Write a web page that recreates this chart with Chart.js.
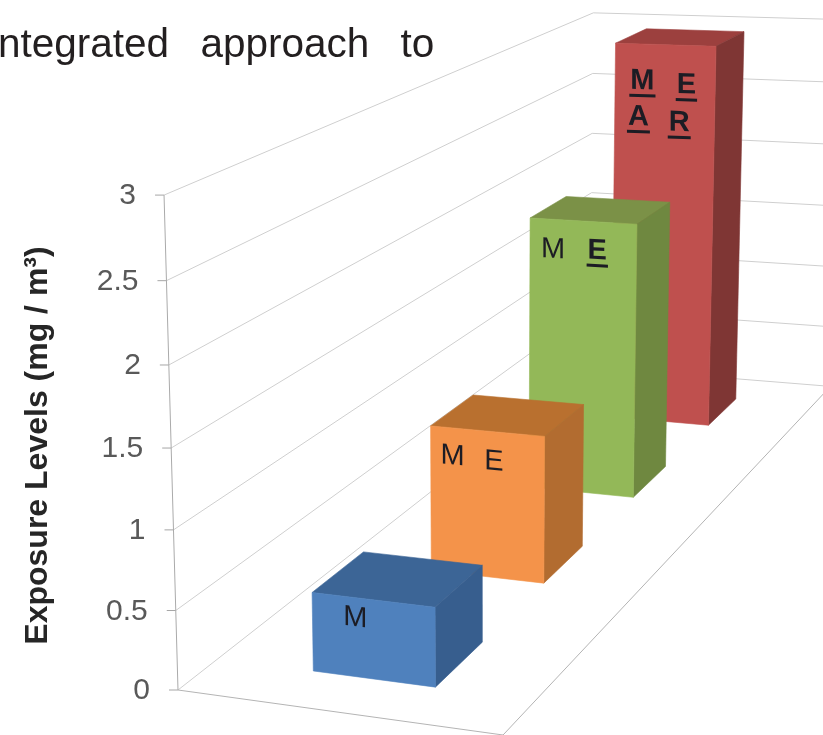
<!DOCTYPE html>
<html>
<head>
<meta charset="utf-8">
<style>
  html, body { margin: 0; padding: 0; background: #fff; overflow: hidden; }
  #wrap { position: relative; width: 823px; height: 735px; overflow: hidden; }
  #lead { position: absolute; left: -2px; top: 18px; font: 40.5px "Liberation Sans", Arial, sans-serif; color: #231f20;
          white-space: pre; word-spacing: 20px; line-height: 50px; }
  canvas { position: absolute; left: 0; top: 0; }
</style>
<script src="https://cdn.jsdelivr.net/npm/chart.js@4"></script>
</head>
<body>
<div id="wrap">
  <canvas id="chart" width="823" height="735"></canvas>
  <div id="lead">ntegrated approach to</div>
</div>
<script>
// Exposure level reached by each scenario, front row to back row.
const categories = ['M', 'M E', 'M E*', 'M* E* A* R*'];
const exposureLevels = [0.5, 1, 2, 2.97];
const yTickLabels = ['0', '0.5', '1', '1.5', '2', '2.5', '3'];
const yAxisTitle = 'Exposure Levels (mg / m\u00B3)';

// Letters printed on the front face of each column; true marks bold and underlined.
const columnTags = [['M'], ['M', 'E'], ['M', 'E'], ['M', 'E', 'A', 'R']];
const tagEmphasis = [[false], [false, false], [false, true], [true, true, true, true]];

// Face colours per column: front, top, side.
const frontColors = ['#4f81bd', '#f4934a', '#93b858', '#bf504e'];
const topColors = ['#3c6596', '#b9702f', '#7b9147', '#9c403e'];
const sideColors = ['#375e8e', '#b26c30', '#6f8840', '#7f3634'];

// Where tags sit on a face: fraction across the face, value units below the top.
const tagSlots = [
  [[0.355, 0.13]],
  [[0.195, 0.195], [0.56, 0.205]],
  [[0.22, 0.22], [0.635, 0.21]],
  [[0.275, 0.285], [0.715, 0.305], [0.24, 0.565], [0.65, 0.595]]
];

// Perspective camera: (across, value, depth) in homogeneous form.
const CAM = {
  x: [299.9, -7.03, 659.8, 178],
  y: [8.25, -167.8, -168.9, 690],
  w: [-0.05, -0.0145, 0.42, 1]
};
function project(across, value, depth) {
  const w = CAM.w[0] * across + CAM.w[1] * value + CAM.w[2] * depth + CAM.w[3];
  return {
    x: (CAM.x[0] * across + CAM.x[1] * value + CAM.x[2] * depth + CAM.x[3]) / w,
    y: (CAM.y[0] * across + CAM.y[1] * value + CAM.y[2] * depth + CAM.y[3]) / w
  };
}

// Value axis that runs along the front-left edge of the 3D box.
class PerspectiveScale extends Chart.LinearScale {
  static id = 'perspective';
  getPixelForValue(value) {
    return project(0, value, 0).y;
  }
  _computeLabelArea() {
    return undefined;
  }
  _computeLabelItems(area) {
    const items = super._computeLabelItems(area);
    items.forEach((item, i) => {
      const p = project(0, this.ticks[i].value, 0);
      item.textOffset = 0;
      item.options.translation = [p.x - 28, p.y + 1];
      item.options.textAlign = 'right';
      item.options.textBaseline = 'middle';
    });
    return items;
  }
}

const ACROSS_START = 0.31;
const ACROSS_END = 0.695;
const FRONT_OFFSET = 0.054;
const BACK_OFFSET = 0.048;

function polygon(ctx, points, fill) {
  ctx.beginPath();
  points.forEach((p, i) => (i ? ctx.lineTo(p.x, p.y) : ctx.moveTo(p.x, p.y)));
  ctx.closePath();
  ctx.fillStyle = fill;
  ctx.strokeStyle = fill;
  ctx.lineWidth = 0.6;
  ctx.fill();
  ctx.stroke();
}

// Column controller: extrudes each bar into a box, painting back rows first.
class Column3DController extends Chart.BarController {
  static id = 'column3d';
  draw() {
    const ctx = this.chart.ctx;
    const meta = this._cachedMeta;
    const xScale = meta.iScale;
    for (let i = meta.data.length - 1; i >= 0; i--) {
      const value = meta._parsed[i].y;
      const depth = xScale.getDecimalForPixel(xScale.getPixelForValue(i));
      const z0 = depth - FRONT_OFFSET, z1 = depth + BACK_OFFSET;
      const a0 = ACROSS_START, a1 = ACROSS_END;
      polygon(ctx, [project(a0, value, z0), project(a1, value, z0), project(a1, value, z1), project(a0, value, z1)], topColors[i]);
      polygon(ctx, [project(a1, 0, z0), project(a1, value, z0), project(a1, value, z1), project(a1, 0, z1)], sideColors[i]);
      polygon(ctx, [project(a0, 0, z0), project(a1, 0, z0), project(a1, value, z0), project(a0, value, z0)], frontColors[i]);
      this.drawTags(ctx, i, value, z0);
    }
  }
  drawTags(ctx, i, value, z0) {
    const a0 = ACROSS_START, a1 = ACROSS_END;
    const left = project(a0, value, z0), right = project(a1, value, z0);
    const slope = (right.y - left.y) / (right.x - left.x);
    columnTags[i].forEach((tag, t) => {
      const [u, below] = tagSlots[i][t];
      const p = project(a0 + (a1 - a0) * u, value - below, z0);
      const strong = tagEmphasis[i][t];
      ctx.save();
      ctx.translate(p.x, p.y);
      ctx.transform(1, slope, 0, 1, 0, 0);
      ctx.font = (strong ? 'bold ' : '') + '29px "Liberation Sans", Arial, sans-serif';
      ctx.fillStyle = '#1c1c24';
      ctx.textAlign = 'center';
      ctx.textBaseline = 'middle';
      ctx.fillText(tag, 0, 0);
      if (strong) {
        const w = ctx.measureText(tag).width;
        ctx.fillRect(-w / 2 - 1, 13, w + 2, 3);
      }
      ctx.restore();
    });
  }
}

// Walls, floor and the slanted axis of the box.
const boxFrame = {
  id: 'boxFrame',
  beforeDatasetsDraw(chart) {
    const ctx = chart.ctx;
    const scale = chart.scales.y;
    const segment = (a, b, color) => {
      ctx.beginPath();
      ctx.moveTo(a.x, a.y);
      ctx.lineTo(b.x, b.y);
      ctx.strokeStyle = color;
      ctx.stroke();
    };
    ctx.save();
    ctx.lineWidth = 1;
    scale.ticks.forEach((tick) => {
      const v = tick.value;
      const front = project(0, v, 0);
      const corner = project(0, v, 1);
      segment(front, corner, '#cfcfcf');
      segment(corner, project(1, v, 1), '#cfcfcf');
      segment({ x: front.x - 9, y: front.y }, front, '#a6a6a6');
    });
    segment(project(0, 0, 0), project(0, scale.max, 0), '#aaaaaa');
    segment(project(0, 0, 0), project(1, 0, 0), '#b4b4b4');
    segment(project(1, 0, 0), project(1, 0, 1), '#b4b4b4');
    ctx.restore();
  }
};

Chart.register(PerspectiveScale, Column3DController);

new Chart(document.getElementById('chart'), {
  type: 'column3d',
  data: {
    labels: categories,
    datasets: [{ data: exposureLevels, backgroundColor: frontColors, clip: false }]
  },
  options: {
    responsive: false,
    animation: false,
    events: [],
    layout: { padding: { left: 19, top: 177, right: 0, bottom: 0 } },
    plugins: { legend: { display: false }, tooltip: { enabled: false }, title: { display: false } },
    scales: {
      x: { type: 'category', display: false, offset: true },
      y: {
        type: 'perspective',
        min: 0,
        max: 3,
        grid: { display: false },
        border: { display: false },
        ticks: {
          stepSize: 0.5,
          autoSkip: false,
          color: '#595959',
          font: { family: '"Liberation Sans", Arial, sans-serif', size: 30 },
          callback: (value, index) => yTickLabels[index]
        },
        title: {
          display: true,
          text: yAxisTitle,
          color: '#262626',
          padding: 0,
          font: { family: '"Liberation Sans", Arial, sans-serif', size: 32, weight: 'bold' }
        }
      }
    }
  },
  plugins: [boxFrame]
});
</script>
</body>
</html>
